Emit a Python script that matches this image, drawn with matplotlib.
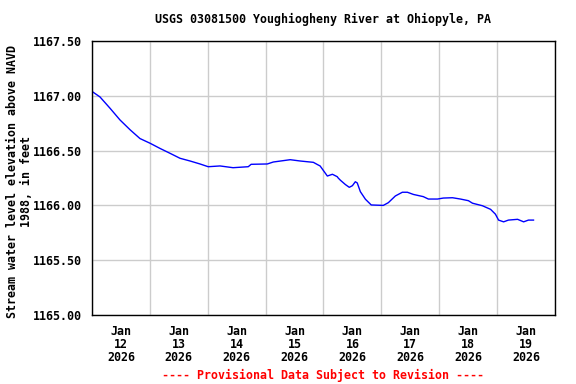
import matplotlib
matplotlib.use("Agg")
import matplotlib.pyplot as plt
import matplotlib.dates as mdates
import pandas as pd

# hours after Jan 12 2026 00:00 and gage height elevation (ft)
hours = [0, 3.3, 7.5, 11.6, 15.8, 19.9, 24.1, 28.2, 32.4, 36.5, 40.7, 44.8,
         48.2, 53.1, 58.5, 64.8, 66.0, 72.7, 75.2, 82.2, 86.4, 91.8, 93.8,
         94.6, 97.6, 99.7, 101.7, 102.1, 103.0, 105.1, 106.7, 108.0, 109.2,
         110.0, 111.3, 113.4, 115.8, 120.8, 122.9, 125.8, 128.7, 130.8, 133.3,
         137.4, 139.5, 143.3, 145.7, 149.5, 152.8, 156.1, 157.8, 161.9, 165.3,
         167.3, 168.6, 170.7, 172.7, 176.5, 179.0, 181.0, 183.1]
elev = [1167.04, 1166.99, 1166.886, 1166.78, 1166.69, 1166.61, 1166.567,
        1166.52, 1166.475, 1166.43, 1166.405, 1166.378, 1166.353, 1166.36,
        1166.344, 1166.353, 1166.375, 1166.378, 1166.396, 1166.417, 1166.405,
        1166.393, 1166.369, 1166.36, 1166.268, 1166.284, 1166.262, 1166.25,
        1166.23, 1166.19, 1166.165, 1166.18, 1166.216, 1166.205, 1166.125,
        1166.056, 1166.004, 1166.0, 1166.025, 1166.086, 1166.12, 1166.12,
        1166.10, 1166.08, 1166.058, 1166.058, 1166.067, 1166.07, 1166.058,
        1166.043, 1166.02, 1165.997, 1165.964, 1165.92, 1165.866, 1165.85,
        1165.866, 1165.873, 1165.85, 1165.866, 1165.866]

y_ticks = [1165.00, 1165.50, 1166.00, 1166.50, 1167.00, 1167.50]

start = pd.Timestamp("2026-01-12")
times = [start + pd.Timedelta(hours=h) for h in hours]

font = "DejaVu Sans Mono"
fs = 8.4

fig = plt.figure(figsize=(5.76, 3.84), dpi=100)
ax = fig.add_axes([0.1597, 0.1797, 0.8038, 0.7135])

ax.plot(times, elev, color="#0000ff", linewidth=1)

ax.set_xlim(start, start + pd.Timedelta(days=8))
ax.set_ylim(1165.0, 1167.5)

# gridlines at midnight, labels at noon
ax.xaxis.set_minor_locator(mdates.DayLocator())
ax.xaxis.set_major_locator(mdates.HourLocator(byhour=12))
ax.xaxis.set_major_formatter(mdates.DateFormatter("%b\n%d\n%Y"))
ax.grid(True, which="minor", axis="x", color="#cccccc", linewidth=1)
ax.set_yticks(y_ticks)
ax.set_yticklabels(["%.2f" % v for v in y_ticks])
ax.grid(True, which="major", axis="y", color="#cccccc", linewidth=1)
ax.tick_params(axis="both", which="both", length=0)
ax.tick_params(axis="x", pad=7.5)
ax.tick_params(axis="y", pad=7)

for lab in ax.get_xticklabels() + ax.get_yticklabels():
    lab.set_fontfamily(font)
    lab.set_fontweight("bold")
    lab.set_fontsize(fs)
for lab in ax.get_xticklabels():
    lab.set_linespacing(0.97)

for s in ax.spines.values():
    s.set_color("black")
    s.set_linewidth(1)

fig.text(0.56, 0.95, "USGS 03081500 Youghiogheny River at Ohiopyle, PA",
         ha="center", va="center", fontfamily=font, fontweight="bold", fontsize=fs)
fig.text(0.034, 0.527, "Stream water level elevation above NAVD\n1988, in feet",
         ha="center", va="center", rotation=90, fontfamily=font,
         fontweight="bold", fontsize=fs, linespacing=1.05)
fig.text(0.56, 0.023, "---- Provisional Data Subject to Revision ----",
         ha="center", va="center", color="red", fontfamily=font,
         fontweight="bold", fontsize=fs)

fig.savefig("out.png", dpi=100)
